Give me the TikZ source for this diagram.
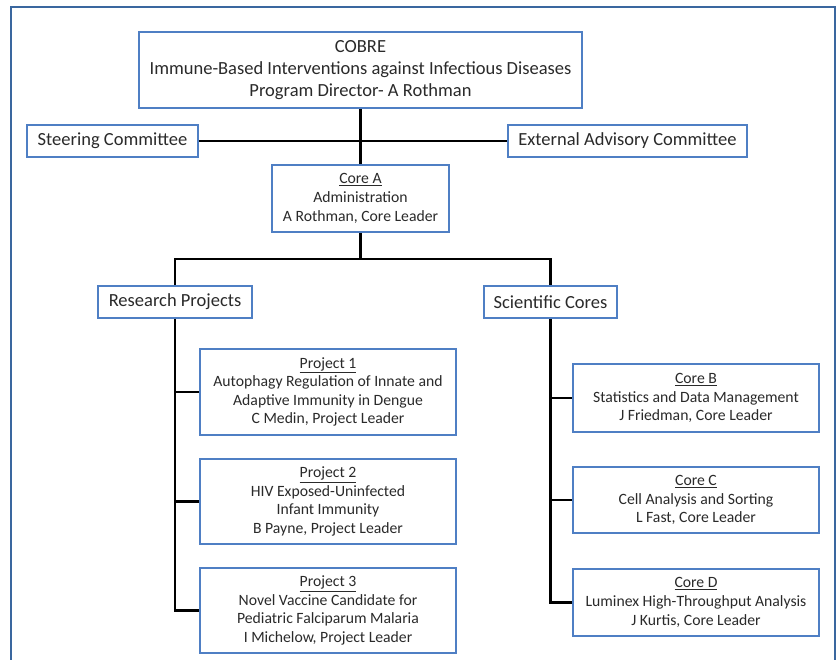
\documentclass[tikz,border=0pt]{standalone}
\usepackage{fontspec}
\setmainfont{Carlito}
\definecolor{boxblue}{HTML}{4F7FC4}
\definecolor{framecol}{HTML}{3A679F}
\definecolor{txt}{HTML}{2A2A2A}
\tikzset{
  box/.style={draw=boxblue, line width=2.6pt, fill=white, align=center, inner sep=0pt, text=txt},
  big/.style={box, font=\fontsize{18.5}{22}\selectfont},
  small/.style={box, font=\fontsize{15.7}{18.6}\selectfont},
  conn/.style={draw=black, line width=2.8pt},
}
\begin{document}
\begin{tikzpicture}[x=1pt,y=-1pt]
\useasboundingbox (0,0) rectangle (838,659);
\draw[framecol, line width=2pt] (11,662) -- (11,7) -- (835,7) -- (835,662);

\node[big, minimum width=443pt, minimum height=76pt] (cobre) at (360.5,70)
  {COBRE\\Immune-Based Interventions against Infectious Diseases\\Program Director- A Rothman};
\node[big, minimum width=171pt, minimum height=32pt] (steer) at (112.5,141) {Steering Committee};
\node[big, minimum width=239pt, minimum height=32pt] (ext) at (627.5,141) {External Advisory Committee};
\node[small, minimum width=177pt, minimum height=67pt] (coreA) at (360.5,198.5)
  {\underline{Core A}\\Administration\\A Rothman, Core Leader};
\node[big, minimum width=154pt, minimum height=32pt] (research) at (175,302) {Research Projects};
\node[big, minimum width=133pt, minimum height=32pt] (sci) at (550.5,302) {Scientific Cores};

\node[small, minimum width=256pt, minimum height=86pt] (p1) at (328,392)
  {\underline{Project 1}\\Autophagy Regulation of Innate and\\Adaptive Immunity in Dengue\\C Medin, Project Leader};
\node[small, minimum width=256pt, minimum height=85pt] (p2) at (328,501.5)
  {\underline{Project 2}\\HIV Exposed-Uninfected\\Infant Immunity\\B Payne, Project Leader};
\node[small, minimum width=256pt, minimum height=85pt] (p3) at (328,610.5)
  {\underline{Project 3}\\Novel Vaccine Candidate for\\Pediatric Falciparum Malaria\\I Michelow, Project Leader};

\node[small, minimum width=246pt, minimum height=68pt] (cB) at (696,398)
  {\underline{Core B}\\Statistics and Data Management\\J Friedman, Core Leader};
\node[small, minimum width=246pt, minimum height=66pt] (cC) at (696,500)
  {\underline{Core C}\\Cell Analysis and Sorting\\L Fast, Core Leader};
\node[small, minimum width=246pt, minimum height=67pt] (cD) at (696,602.5)
  {\underline{Core D}\\Luminex High-Throughput Analysis\\J Kurtis, Core Leader};

\coordinate (junc) at (360.5,259);
\draw[conn] (cobre.south) -- (coreA.north);
\draw[conn] (steer.east) -- (ext.west);
\draw[conn] (coreA.south) -- (junc);
\draw[conn] (research.north) |- (junc) -| (sci.north);
\draw[conn] (research.south) |- (p1.west);
\draw[conn] (research.south) |- (p2.west);
\draw[conn] (research.south) |- (p3.west);
\draw[conn] (sci.south) |- (cB.west);
\draw[conn] (sci.south) |- (cC.west);
\draw[conn] (sci.south) |- (cD.west);
\end{tikzpicture}
\end{document}
